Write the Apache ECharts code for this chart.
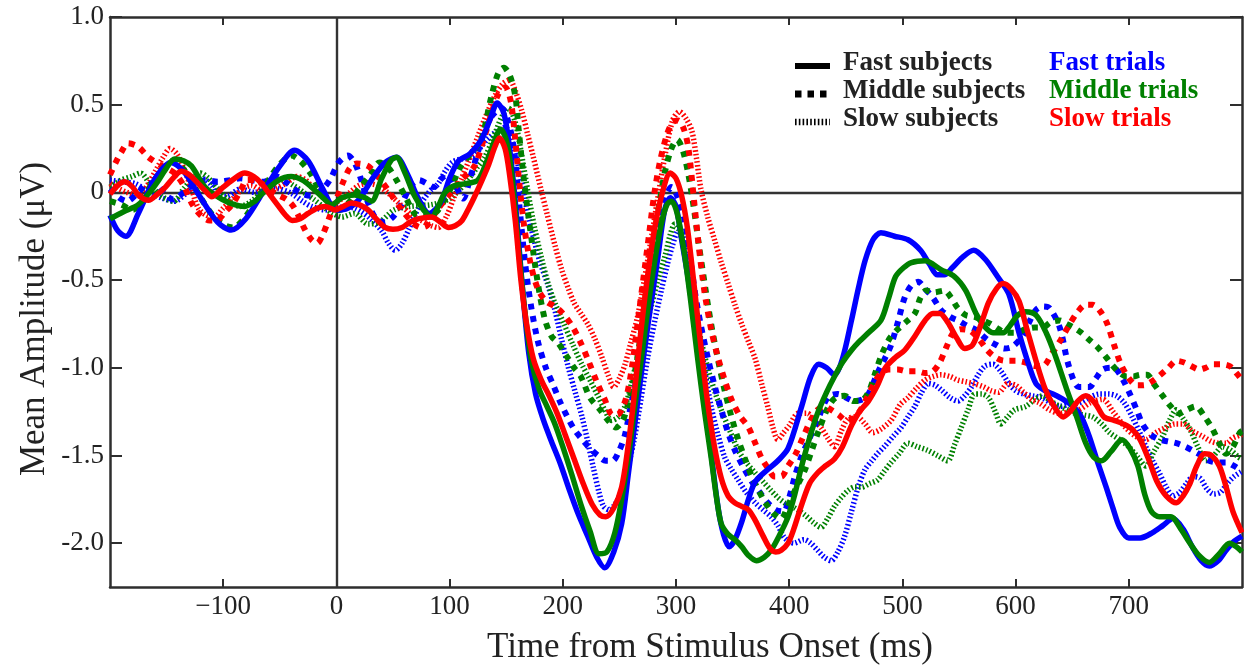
<!DOCTYPE html>
<html>
<head>
<meta charset="utf-8">
<script src="https://cdn.jsdelivr.net/npm/echarts@6/dist/echarts.min.js"></script>
<style>
html,body{margin:0;padding:0;background:#fff;}
#chart{width:1244px;height:668px;}
</style>
</head>
<body>
<div id="chart"></div>
<script>
// ---- tick labels ----
const xTickValues = [-100, 0, 100, 200, 300, 400, 500, 600, 700];
const yTickValues = [-2.0, -1.5, -1.0, -0.5, 0, 0.5, 1.0];

// ---- series: [time (ms), mean amplitude (µV)] ----
// Fast subjects (solid)
const fastSubj_fastTrials = [[-200,-0.13],[-193,-0.22],[-186,-0.25],[-175,-0.12],[-160,0.08],[-146,0.17],[-135,0.12],[-120,-0.03],[-105,-0.17],[-93,-0.215],[-80,-0.15],[-65,0.0],[-50,0.15],[-37,0.24],[-25,0.18],[-12,0.02],[0,-0.1],[10,-0.09],[20,-0.04],[32,0.08],[43,0.17],[53,0.2],[63,0.1],[72,-0.03],[82,-0.12],[92,-0.06],[100,0.08],[108,0.18],[118,0.22],[128,0.3],[136,0.42],[142,0.51],[148,0.45],[153,0.25],[158,-0.05],[164,-0.52],[170,-0.92],[176,-1.15],[183,-1.3],[190,-1.42],[198,-1.55],[206,-1.7],[214,-1.84],[222,-1.96],[230,-2.08],[237,-2.14],[245,-2.05],[252,-1.89],[258,-1.6],[264,-1.3],[270,-1.0],[276,-0.72],[284,-0.37],[290,-0.1],[295,-0.03],[300,-0.08],[305,-0.27],[311,-0.5],[317,-0.78],[323,-1.08],[329,-1.38],[337,-1.79],[342,-1.95],[347,-2.02],[352,-1.98],[358,-1.88],[364,-1.75],[370,-1.65],[381,-1.58],[390,-1.53],[399,-1.46],[411,-1.22],[419,-1.05],[426,-0.98],[433,-1.0],[440,-1.04],[447,-0.95],[455,-0.73],[461,-0.55],[467,-0.39],[474,-0.27],[481,-0.23],[493,-0.25],[505,-0.27],[516,-0.33],[524,-0.41],[531,-0.47],[537,-0.47],[544,-0.43],[553,-0.37],[563,-0.33],[573,-0.38],[584,-0.48],[594,-0.58],[603,-0.8],[611,-0.97],[618,-1.09],[626,-1.13],[633,-1.15],[642,-1.18],[651,-1.22],[658,-1.28],[665,-1.39],[672,-1.53],[680,-1.68],[686,-1.8],[692,-1.91],[700,-1.97],[710,-1.97],[721,-1.94],[730,-1.9],[739,-1.86],[748,-1.92],[756,-2.02],[764,-2.1],[771,-2.13],[779,-2.1],[786,-2.04],[793,-1.99],[800,-1.96]];
const fastSubj_middleTrials = [[-200,-0.15],[-188,-0.11],[-175,-0.07],[-165,0.0],[-157,0.07],[-150,0.14],[-143,0.19],[-135,0.18],[-128,0.15],[-116,0.03],[-101,-0.04],[-90,-0.07],[-81,-0.08],[-72,-0.05],[-66,-0.01],[-51,0.07],[-40,0.09],[-30,0.07],[-22,0.03],[-12,-0.03],[-4,-0.07],[5,-0.03],[16,-0.015],[25,-0.03],[31,-0.05],[40,0.08],[48,0.18],[53,0.2],[60,0.12],[69,-0.02],[77,-0.1],[84,-0.14],[90,-0.08],[96,0.0],[105,0.04],[115,0.05],[125,0.07],[133,0.18],[140,0.3],[145,0.36],[150,0.3],[155,0.1],[160,-0.25],[166,-0.65],[172,-0.95],[179,-1.12],[186,-1.22],[193,-1.32],[200,-1.45],[208,-1.61],[216,-1.78],[224,-1.93],[232,-2.06],[239,-2.05],[246,-1.94],[252,-1.75],[258,-1.5],[264,-1.2],[270,-0.92],[276,-0.62],[281,-0.4],[287,-0.18],[292,-0.07],[296,-0.05],[301,-0.12],[307,-0.33],[313,-0.62],[319,-0.94],[325,-1.24],[331,-1.51],[336,-1.75],[340,-1.89],[346,-1.95],[352,-1.98],[358,-2.02],[364,-2.07],[371,-2.1],[378,-2.08],[384,-2.04],[391,-1.96],[399,-1.85],[405,-1.72],[411,-1.56],[418,-1.4],[425,-1.26],[433,-1.14],[440,-1.05],[447,-0.97],[455,-0.9],[462,-0.85],[470,-0.8],[481,-0.73],[488,-0.6],[494,-0.48],[501,-0.43],[508,-0.4],[520,-0.39],[534,-0.44],[546,-0.48],[556,-0.56],[565,-0.69],[572,-0.76],[580,-0.8],[589,-0.8],[595,-0.76],[602,-0.7],[609,-0.68],[618,-0.7],[627,-0.8],[635,-0.93],[645,-1.12],[654,-1.28],[662,-1.43],[669,-1.51],[676,-1.53],[684,-1.48],[694,-1.41],[701,-1.46],[708,-1.56],[714,-1.72],[720,-1.82],[727,-1.85],[737,-1.85],[746,-1.92],[754,-2.0],[762,-2.07],[771,-2.11],[780,-2.06],[789,-2.0],[795,-2.02],[800,-2.05]];
const fastSubj_slowTrials = [[-200,-0.01],[-193,0.04],[-187,0.06],[-180,0.03],[-175,-0.015],[-166,-0.045],[-158,-0.01],[-151,0.03],[-143,0.09],[-137,0.12],[-130,0.1],[-122,0.05],[-116,0.01],[-110,-0.025],[-100,0.03],[-92,0.07],[-81,0.11],[-73,0.09],[-66,0.05],[-58,-0.02],[-51,-0.08],[-45,-0.13],[-39,-0.16],[-32,-0.15],[-25,-0.12],[-17,-0.09],[-10,-0.08],[-1,-0.1],[6,-0.08],[13,-0.06],[20,-0.07],[28,-0.1],[35,-0.15],[43,-0.2],[50,-0.21],[58,-0.2],[65,-0.17],[73,-0.15],[84,-0.14],[92,-0.17],[99,-0.2],[105,-0.19],[111,-0.16],[117,-0.09],[122,-0.025],[128,0.06],[134,0.15],[140,0.26],[144,0.31],[149,0.25],[153,0.1],[158,-0.16],[163,-0.5],[168,-0.75],[174,-0.95],[181,-1.07],[188,-1.16],[195,-1.26],[202,-1.38],[210,-1.52],[218,-1.66],[226,-1.78],[233,-1.84],[238,-1.85],[245,-1.8],[252,-1.68],[257,-1.48],[262,-1.22],[268,-0.85],[274,-0.52],[281,-0.21],[288,0.0],[295,0.11],[300,0.08],[305,-0.02],[310,-0.2],[316,-0.53],[322,-0.88],[328,-1.2],[334,-1.45],[340,-1.63],[346,-1.73],[352,-1.77],[358,-1.79],[364,-1.81],[370,-1.87],[377,-1.96],[383,-2.03],[388,-2.05],[393,-2.04],[399,-2.0],[404,-1.92],[410,-1.8],[418,-1.66],[425,-1.6],[432,-1.56],[440,-1.52],[447,-1.45],[455,-1.33],[462,-1.25],[470,-1.19],[478,-1.1],[485,-1.0],[494,-0.94],[502,-0.9],[511,-0.82],[520,-0.73],[527,-0.69],[533,-0.69],[540,-0.74],[548,-0.83],[555,-0.89],[562,-0.87],[569,-0.76],[576,-0.63],[583,-0.55],[589,-0.52],[596,-0.55],[603,-0.62],[610,-0.78],[618,-0.96],[626,-1.12],[633,-1.21],[642,-1.28],[648,-1.25],[655,-1.19],[662,-1.16],[670,-1.2],[678,-1.28],[687,-1.3],[695,-1.32],[703,-1.35],[710,-1.41],[718,-1.53],[725,-1.65],[733,-1.73],[742,-1.77],[748,-1.73],[754,-1.66],[760,-1.56],[767,-1.49],[773,-1.5],[780,-1.56],[786,-1.68],[792,-1.82],[800,-1.94]];
// Middle subjects (dashed)
const middleSubj_fastTrials = [[-200,0.02],[-192,-0.03],[-185,-0.05],[-175,0.0],[-166,0.05],[-158,0.04],[-150,-0.02],[-144,-0.04],[-135,0.0],[-125,0.05],[-115,0.07],[-105,0.06],[-94,0.07],[-85,0.08],[-75,0.07],[-65,0.06],[-53,0.09],[-43,0.05],[-33,0.0],[-22,-0.02],[-12,0.02],[-5,0.08],[2,0.17],[10,0.21],[16,0.17],[22,0.07],[28,-0.06],[35,-0.15],[42,-0.17],[50,-0.14],[58,-0.06],[66,0.04],[73,0.07],[80,0.05],[86,0.03],[93,0.08],[98,0.1],[105,0.04],[112,-0.035],[118,0.08],[125,0.23],[132,0.37],[138,0.44],[146,0.48],[152,0.4],[157,0.24],[162,-0.1],[167,-0.42],[172,-0.65],[178,-0.85],[185,-1.0],[191,-1.09],[198,-1.2],[204,-1.28],[210,-1.35],[216,-1.4],[224,-1.46],[231,-1.5],[238,-1.53],[244,-1.53],[250,-1.47],[255,-1.38],[260,-1.22],[264,-1.1],[270,-0.8],[275,-0.56],[280,-0.36],[285,-0.18],[290,-0.04],[296,0.03],[301,-0.02],[307,-0.14],[312,-0.35],[317,-0.58],[322,-0.76],[328,-0.94],[334,-1.1],[340,-1.24],[346,-1.37],[352,-1.47],[359,-1.56],[366,-1.64],[374,-1.71],[381,-1.77],[388,-1.81],[395,-1.82],[400,-1.74],[405,-1.62],[410,-1.52],[416,-1.43],[425,-1.3],[434,-1.17],[443,-1.15],[450,-1.17],[458,-1.19],[465,-1.18],[470,-1.15],[478,-1.03],[485,-0.94],[490,-0.87],[496,-0.74],[502,-0.6],[508,-0.53],[514,-0.51],[520,-0.55],[527,-0.6],[534,-0.67],[542,-0.71],[549,-0.73],[557,-0.76],[564,-0.78],[575,-0.84],[583,-0.87],[590,-0.89],[597,-0.88],[606,-0.82],[612,-0.74],[618,-0.67],[624,-0.65],[630,-0.66],[639,-0.77],[647,-0.99],[656,-1.11],[665,-1.11],[671,-1.06],[677,-1.01],[684,-1.0],[689,-1.01],[695,-1.07],[701,-1.15],[707,-1.24],[712,-1.32],[719,-1.38],[727,-1.41],[735,-1.42],[742,-1.43],[750,-1.45],[756,-1.47],[764,-1.5],[771,-1.53],[779,-1.54],[786,-1.54],[793,-1.56],[800,-1.59]];
const middleSubj_middleTrials = [[-200,-0.05],[-190,-0.07],[-180,-0.1],[-172,-0.05],[-163,0.05],[-152,0.14],[-144,0.18],[-136,0.14],[-128,0.06],[-118,-0.05],[-108,-0.14],[-98,-0.19],[-91,-0.2],[-83,-0.16],[-76,-0.1],[-66,0.0],[-58,0.09],[-50,0.16],[-40,0.21],[-32,0.18],[-23,0.11],[-14,0.0],[-5,-0.09],[3,-0.1],[12,-0.05],[20,0.02],[30,0.1],[38,0.17],[46,0.14],[54,0.06],[61,-0.025],[69,-0.12],[77,-0.14],[84,-0.13],[90,-0.1],[100,0.01],[110,0.15],[120,0.23],[128,0.3],[137,0.55],[143,0.68],[148,0.71],[153,0.67],[158,0.55],[161,0.36],[166,0.05],[172,-0.25],[178,-0.52],[184,-0.72],[190,-0.82],[196,-0.86],[203,-0.93],[210,-1.0],[216,-1.05],[224,-1.17],[233,-1.24],[240,-1.3],[247,-1.34],[253,-1.3],[258,-1.2],[263,-1.05],[268,-0.85],[273,-0.6],[278,-0.37],[284,-0.12],[290,0.11],[296,0.25],[301,0.3],[306,0.24],[311,0.1],[316,-0.1],[320,-0.29],[326,-0.55],[331,-0.75],[337,-0.95],[343,-1.13],[349,-1.28],[355,-1.41],[361,-1.52],[367,-1.62],[373,-1.7],[379,-1.77],[386,-1.83],[393,-1.86],[398,-1.8],[405,-1.7],[414,-1.58],[420,-1.47],[426,-1.36],[434,-1.23],[441,-1.17],[449,-1.16],[457,-1.19],[463,-1.19],[470,-1.14],[476,-1.03],[482,-0.92],[489,-0.83],[496,-0.78],[503,-0.74],[511,-0.69],[516,-0.6],[521,-0.56],[528,-0.57],[537,-0.56],[543,-0.6],[549,-0.66],[556,-0.7],[564,-0.71],[571,-0.73],[578,-0.75],[585,-0.78],[592,-0.8],[600,-0.8],[609,-0.78],[617,-0.77],[624,-0.77],[631,-0.74],[639,-0.73],[645,-0.75],[651,-0.77],[658,-0.8],[665,-0.84],[672,-0.88],[680,-0.94],[686,-0.99],[692,-1.03],[698,-1.05],[704,-1.05],[710,-1.04],[716,-1.04],[723,-1.1],[730,-1.16],[737,-1.22],[744,-1.26],[751,-1.24],[759,-1.22],[766,-1.27],[774,-1.35],[780,-1.43],[786,-1.49],[792,-1.45],[798,-1.37],[800,-1.36]];
const middleSubj_slowTrials = [[-200,0.1],[-195,0.17],[-190,0.23],[-184,0.28],[-175,0.26],[-166,0.2],[-154,0.15],[-143,0.11],[-135,0.04],[-128,-0.06],[-120,-0.13],[-112,-0.16],[-106,-0.16],[-98,-0.11],[-91,-0.06],[-84,0.02],[-79,0.07],[-72,0.07],[-64,0.04],[-53,-0.01],[-44,-0.04],[-38,-0.08],[-33,-0.14],[-28,-0.21],[-22,-0.27],[-17,-0.29],[-12,-0.24],[-6,-0.14],[0,-0.04],[6,0.06],[12,0.14],[18,0.165],[28,0.15],[38,0.08],[47,0.0],[59,-0.11],[67,-0.17],[74,-0.2],[80,-0.19],[88,-0.11],[98,-0.025],[110,0.07],[122,0.15],[130,0.3],[137,0.45],[143,0.56],[149,0.6],[154,0.52],[158,0.3],[161,0.09],[166,-0.2],[172,-0.42],[178,-0.55],[185,-0.62],[193,-0.65],[200,-0.69],[209,-0.77],[216,-0.86],[222,-0.95],[230,-1.08],[237,-1.18],[244,-1.27],[250,-1.26],[256,-1.17],[261,-1.0],[266,-0.75],[271,-0.5],[276,-0.25],[281,0.0],[286,0.18],[292,0.33],[297,0.4],[302,0.41],[307,0.36],[311,0.25],[316,-0.05],[320,-0.3],[325,-0.56],[331,-0.78],[337,-0.94],[343,-1.07],[349,-1.18],[356,-1.27],[364,-1.34],[370,-1.43],[376,-1.52],[382,-1.58],[387,-1.62],[393,-1.62],[399,-1.56],[405,-1.5],[412,-1.4],[419,-1.3],[425,-1.24],[431,-1.22],[437,-1.24],[444,-1.27],[450,-1.3],[456,-1.29],[462,-1.25],[468,-1.18],[475,-1.09],[481,-1.03],[488,-1.01],[496,-1.01],[504,-1.02],[513,-1.02],[520,-1.03],[527,-1.02],[533,-0.97],[539,-0.88],[545,-0.8],[552,-0.78],[560,-0.79],[568,-0.84],[575,-0.9],[582,-0.94],[590,-0.96],[600,-0.96],[609,-0.97],[617,-0.99],[624,-0.99],[632,-0.92],[640,-0.84],[647,-0.76],[655,-0.68],[662,-0.64],[668,-0.64],[675,-0.68],[681,-0.75],[687,-0.87],[693,-0.98],[700,-1.06],[707,-1.1],[713,-1.1],[720,-1.08],[728,-1.04],[735,-1.0],[742,-0.96],[749,-0.97],[755,-0.99],[762,-1.01],[768,-1.0],[775,-0.98],[782,-0.98],[789,-0.99],[795,-1.03],[800,-1.07]];
// Slow subjects (dotted)
const slowSubj_fastTrials = [[-200,0.07],[-190,0.06],[-178,0.05],[-165,0.0],[-155,-0.03],[-143,-0.05],[-132,0.0],[-119,0.08],[-110,0.04],[-104,-0.025],[-95,-0.02],[-85,0.02],[-72,0.0],[-60,0.03],[-50,0.02],[-40,-0.005],[-30,-0.05],[-22,-0.08],[-10,-0.1],[0,-0.09],[8,-0.08],[16,-0.09],[22,-0.11],[30,-0.15],[40,-0.22],[46,-0.29],[52,-0.33],[58,-0.29],[64,-0.21],[70,-0.12],[76,-0.05],[83,0.01],[90,0.05],[96,0.12],[102,0.17],[110,0.19],[118,0.2],[125,0.24],[133,0.3],[142,0.35],[149,0.37],[155,0.3],[161,0.14],[166,-0.02],[170,-0.15],[175,-0.28],[180,-0.4],[187,-0.53],[193,-0.67],[199,-0.84],[205,-1.0],[211,-1.14],[217,-1.28],[222,-1.42],[227,-1.57],[232,-1.71],[236,-1.79],[241,-1.81],[246,-1.78],[252,-1.7],[257,-1.58],[263,-1.41],[269,-1.18],[275,-0.94],[281,-0.74],[287,-0.56],[292,-0.42],[297,-0.3],[302,-0.22],[306,-0.25],[311,-0.39],[315,-0.56],[320,-0.78],[325,-1.0],[331,-1.22],[337,-1.38],[343,-1.51],[349,-1.58],[355,-1.64],[362,-1.71],[370,-1.77],[377,-1.81],[384,-1.85],[390,-1.9],[396,-1.97],[404,-2.0],[413,-1.98],[419,-2.0],[425,-2.04],[431,-2.08],[437,-2.1],[443,-2.05],[449,-1.96],[455,-1.82],[461,-1.68],[467,-1.58],[473,-1.53],[478,-1.49],[484,-1.45],[492,-1.39],[499,-1.34],[505,-1.28],[511,-1.22],[517,-1.14],[523,-1.09],[529,-1.1],[535,-1.13],[542,-1.17],[549,-1.19],[555,-1.16],[561,-1.11],[567,-1.04],[573,-0.99],[580,-0.98],[587,-1.02],[594,-1.09],[600,-1.13],[607,-1.15],[615,-1.16],[623,-1.17],[631,-1.2],[639,-1.22],[647,-1.21],[656,-1.2],[665,-1.17],[674,-1.15],[682,-1.15],[689,-1.16],[696,-1.2],[703,-1.28],[709,-1.36],[715,-1.45],[721,-1.53],[727,-1.6],[733,-1.68],[739,-1.73],[745,-1.71],[751,-1.66],[757,-1.62],[763,-1.63],[769,-1.69],[775,-1.72],[781,-1.71],[787,-1.66],[793,-1.62],[800,-1.59]];
const slowSubj_middleTrials = [[-200,0.03],[-190,0.07],[-181,0.09],[-173,0.11],[-165,0.05],[-155,-0.02],[-144,-0.05],[-135,0.02],[-127,0.08],[-120,0.11],[-113,0.08],[-106,0.03],[-96,-0.04],[-85,-0.08],[-75,-0.05],[-65,0.01],[-55,0.06],[-47,0.07],[-38,0.04],[-29,0.0],[-20,-0.04],[-10,-0.09],[-3,-0.12],[5,-0.14],[16,-0.12],[28,-0.18],[38,-0.17],[51,-0.1],[65,-0.08],[84,-0.07],[99,-0.04],[108,0.01],[116,0.07],[124,0.14],[131,0.2],[138,0.3],[146,0.43],[152,0.48],[158,0.4],[164,0.2],[169,0.01],[175,-0.2],[181,-0.37],[187,-0.52],[193,-0.63],[201,-0.75],[209,-0.87],[216,-0.97],[224,-1.07],[231,-1.16],[237,-1.24],[243,-1.3],[249,-1.28],[255,-1.22],[261,-1.08],[266,-0.94],[272,-0.79],[278,-0.65],[284,-0.5],[290,-0.37],[295,-0.24],[299,-0.18],[303,-0.22],[308,-0.35],[312,-0.5],[317,-0.67],[322,-0.84],[328,-1.0],[334,-1.13],[340,-1.24],[347,-1.35],[355,-1.47],[362,-1.54],[370,-1.6],[377,-1.65],[384,-1.7],[390,-1.74],[396,-1.77],[405,-1.8],[414,-1.84],[421,-1.88],[428,-1.91],[434,-1.86],[440,-1.79],[446,-1.74],[452,-1.7],[458,-1.68],[464,-1.68],[471,-1.66],[478,-1.64],[484,-1.59],[490,-1.54],[497,-1.49],[505,-1.43],[513,-1.45],[522,-1.47],[531,-1.5],[540,-1.53],[546,-1.44],[552,-1.34],[558,-1.24],[564,-1.15],[570,-1.15],[576,-1.17],[582,-1.25],[587,-1.32],[593,-1.28],[599,-1.24],[609,-1.22],[617,-1.18],[624,-1.16],[631,-1.19],[639,-1.22],[646,-1.24],[653,-1.26],[661,-1.27],[668,-1.28],[676,-1.32],[683,-1.37],[692,-1.41],[700,-1.45],[708,-1.51],[715,-1.56],[722,-1.48],[730,-1.39],[736,-1.3],[742,-1.24],[748,-1.29],[754,-1.35],[761,-1.45],[768,-1.53],[775,-1.5],[783,-1.45],[790,-1.47],[797,-1.51],[800,-1.52]];
const slowSubj_slowTrials = [[-200,0.05],[-192,0.02],[-185,0.0],[-175,-0.02],[-167,0.04],[-160,0.12],[-153,0.2],[-147,0.25],[-141,0.22],[-135,0.14],[-128,0.02],[-122,-0.09],[-115,-0.13],[-108,-0.14],[-100,-0.09],[-92,-0.04],[-83,0.02],[-75,0.04],[-65,0.01],[-55,0.02],[-45,0.05],[-35,0.09],[-27,0.07],[-20,0.02],[-14,-0.005],[-5,-0.07],[4,-0.04],[12,0.0],[20,0.04],[28,0.05],[36,0.04],[45,0.0],[55,-0.06],[65,-0.12],[75,-0.16],[84,-0.19],[90,-0.2],[97,-0.14],[104,-0.025],[110,0.07],[116,0.165],[125,0.32],[133,0.45],[140,0.55],[147,0.62],[153,0.64],[158,0.58],[164,0.46],[169,0.33],[174,0.2],[181,0.01],[186,-0.12],[193,-0.3],[199,-0.44],[205,-0.55],[210,-0.63],[216,-0.69],[222,-0.75],[228,-0.83],[234,-0.93],[240,-1.04],[245,-1.11],[250,-1.06],[255,-0.98],[260,-0.86],[266,-0.71],[272,-0.5],[278,-0.27],[284,-0.03],[290,0.2],[297,0.41],[303,0.46],[309,0.42],[314,0.35],[318,0.2],[322,0.02],[328,-0.14],[334,-0.27],[340,-0.4],[346,-0.52],[352,-0.64],[358,-0.75],[364,-0.85],[370,-0.95],[376,-1.1],[381,-1.22],[386,-1.35],[390,-1.41],[395,-1.37],[400,-1.33],[408,-1.26],[416,-1.26],[422,-1.3],[428,-1.34],[434,-1.4],[440,-1.45],[446,-1.36],[452,-1.29],[460,-1.28],[467,-1.32],[474,-1.37],[481,-1.35],[490,-1.3],[498,-1.21],[505,-1.17],[512,-1.12],[520,-1.07],[527,-1.05],[534,-1.04],[542,-1.05],[549,-1.07],[556,-1.08],[563,-1.09],[572,-1.11],[578,-1.13],[585,-1.14],[593,-1.09],[600,-1.1],[607,-1.14],[614,-1.18],[621,-1.2],[630,-1.24],[639,-1.26],[648,-1.25],[656,-1.24],[666,-1.2],[677,-1.18],[686,-1.25],[697,-1.34],[706,-1.39],[715,-1.41],[724,-1.37],[733,-1.34],[741,-1.32],[748,-1.32],[756,-1.36],[765,-1.39],[773,-1.42],[780,-1.43],[786,-1.43],[792,-1.4],[800,-1.38]];

// ---- legend text ----
const subjectLabels = ['Fast subjects', 'Middle subjects', 'Slow subjects'];
const trialLabels = ['Fast trials', 'Middle trials', 'Slow trials'];

// ---- styles ----
const BLUE = '#0000ff', GREEN = '#008000', RED = '#ff0000';
const SERIF = '"Liberation Serif", "Times New Roman", serif';
const STYLE = {
  solid:  { width: 5.5, type: 'solid' },
  dashed: { width: 6,   type: [6, 6.5] },
  dotted: { width: 5.5, type: [1.6, 2.2] }
};

function mk(name, data, color, kind, z) {
  return {
    name: name, type: 'line', data: data, smooth: 0.3,
    showSymbol: false, symbol: 'none', animation: false, z: z,
    lineStyle: { color: color, width: STYLE[kind].width, type: STYLE[kind].type, cap: 'butt', join: 'round' },
    emphasis: { disabled: true }
  };
}

const series = [
  mk('Slow subjects – Fast trials',   slowSubj_fastTrials,   BLUE,  'dotted', 2),
  mk('Slow subjects – Middle trials', slowSubj_middleTrials, GREEN, 'dotted', 2),
  mk('Slow subjects – Slow trials',   slowSubj_slowTrials,   RED,   'dotted', 2),
  mk('Middle subjects – Fast trials',   middleSubj_fastTrials,   BLUE,  'dashed', 3),
  mk('Middle subjects – Middle trials', middleSubj_middleTrials, GREEN, 'dashed', 3),
  mk('Middle subjects – Slow trials',   middleSubj_slowTrials,   RED,   'dashed', 3),
  mk('Fast subjects – Fast trials',   fastSubj_fastTrials,   BLUE,  'solid', 4),
  mk('Fast subjects – Middle trials', fastSubj_middleTrials, GREEN, 'solid', 4),
  mk('Fast subjects – Slow trials',   fastSubj_slowTrials,   RED,   'solid', 4)
];
// zero reference lines
series[0].markLine = {
  silent: true, symbol: ['none', 'none'], z: 1, animation: false,
  label: { show: false },
  lineStyle: { color: '#333', width: 2.4, type: 'solid' },
  data: [{ yAxis: 0 }, { xAxis: 0 }]
};

const AX = '#2e2e2e';
const xFmt = v => (v < 0 ? '\u2212' + Math.abs(v) : String(v));
const yFmt = v => (v === 0 ? '0' : v.toFixed(1));

// legend (graphic)
const legendRowsY = [63, 91, 119];
const legendGraphics = [];
const kinds = ['solid', 'dashed', 'dotted'];
const legendLineW = { solid: 6, dashed: 7, dotted: 6.5 };
const legendDash = { solid: null, dashed: [6.5, 6], dotted: [1.6, 2.2] };
for (let i = 0; i < 3; i++) {
  legendGraphics.push({
    type: 'line', z: 100,
    shape: { x1: 795, y1: legendRowsY[i] + 3, x2: 830, y2: legendRowsY[i] + 3 },
    style: { stroke: '#000', lineWidth: legendLineW[kinds[i]], lineDash: legendDash[kinds[i]] }
  });
  legendGraphics.push({
    type: 'text', z: 100, x: 843, y: legendRowsY[i],
    style: { text: subjectLabels[i], fill: '#222', fontFamily: SERIF, fontWeight: 'bold', fontSize: 27, verticalAlign: 'middle', align: 'left' }
  });
  legendGraphics.push({
    type: 'text', z: 100, x: 1049, y: legendRowsY[i],
    style: { text: trialLabels[i], fill: [BLUE, GREEN, RED][i], fontFamily: SERIF, fontWeight: 'bold', fontSize: 27, verticalAlign: 'middle', align: 'left' }
  });
}
// axis titles
legendGraphics.push({
  type: 'text', x: 710, y: 648,
  style: { text: 'Time from Stimulus Onset (ms)', fill: '#222', fontFamily: SERIF, fontSize: 35, align: 'center', verticalAlign: 'middle' }
});
legendGraphics.push({
  type: 'text', x: 35, y: 319, rotation: Math.PI / 2,
  style: { text: 'Mean Amplitude (\u03BCV)', fill: '#222', fontFamily: SERIF, fontSize: 35, align: 'center', verticalAlign: 'middle' }
});

const chart = echarts.init(document.getElementById('chart'), null, { renderer: 'canvas' });
chart.setOption({
  animation: false,
  backgroundColor: '#fff',
  grid: { left: 110, top: 17, right: 2, bottom: 81, containLabel: false },
  xAxis: [
    {
      type: 'value', min: -200, max: 800, interval: 100, position: 'bottom',
      axisLine: { show: true, onZero: false, lineStyle: { color: AX, width: 2.5 } },
      axisTick: { show: true, inside: true, length: 8, customValues: xTickValues, lineStyle: { color: AX, width: 2 } },
      axisLabel: { show: true, customValues: xTickValues, formatter: xFmt, margin: 6, color: '#222', fontFamily: SERIF, fontSize: 27 },
      splitLine: { show: false }
    },
    {
      type: 'value', min: -200, max: 800, interval: 100, position: 'top',
      axisLine: { show: true, onZero: false, lineStyle: { color: AX, width: 2.5 } },
      axisTick: { show: true, inside: true, length: 8, customValues: xTickValues, lineStyle: { color: AX, width: 2 } },
      axisLabel: { show: false },
      splitLine: { show: false }
    }
  ],
  yAxis: [
    {
      type: 'value', min: -2.25, max: 1.0, position: 'left',
      axisLine: { show: true, onZero: false, lineStyle: { color: AX, width: 2.5 } },
      axisTick: { show: true, inside: true, length: 12, customValues: yTickValues, lineStyle: { color: AX, width: 2 } },
      axisLabel: { show: true, customValues: yTickValues, formatter: yFmt, margin: 6, color: '#222', fontFamily: SERIF, fontSize: 27 },
      splitLine: { show: false }
    },
    {
      type: 'value', min: -2.25, max: 1.0, position: 'right',
      axisLine: { show: true, onZero: false, lineStyle: { color: AX, width: 2.5 } },
      axisTick: { show: true, inside: true, length: 12, customValues: yTickValues, lineStyle: { color: AX, width: 2 } },
      axisLabel: { show: false },
      splitLine: { show: false }
    }
  ],
  graphic: legendGraphics,
  series: series
});
</script>
</body>
</html>
